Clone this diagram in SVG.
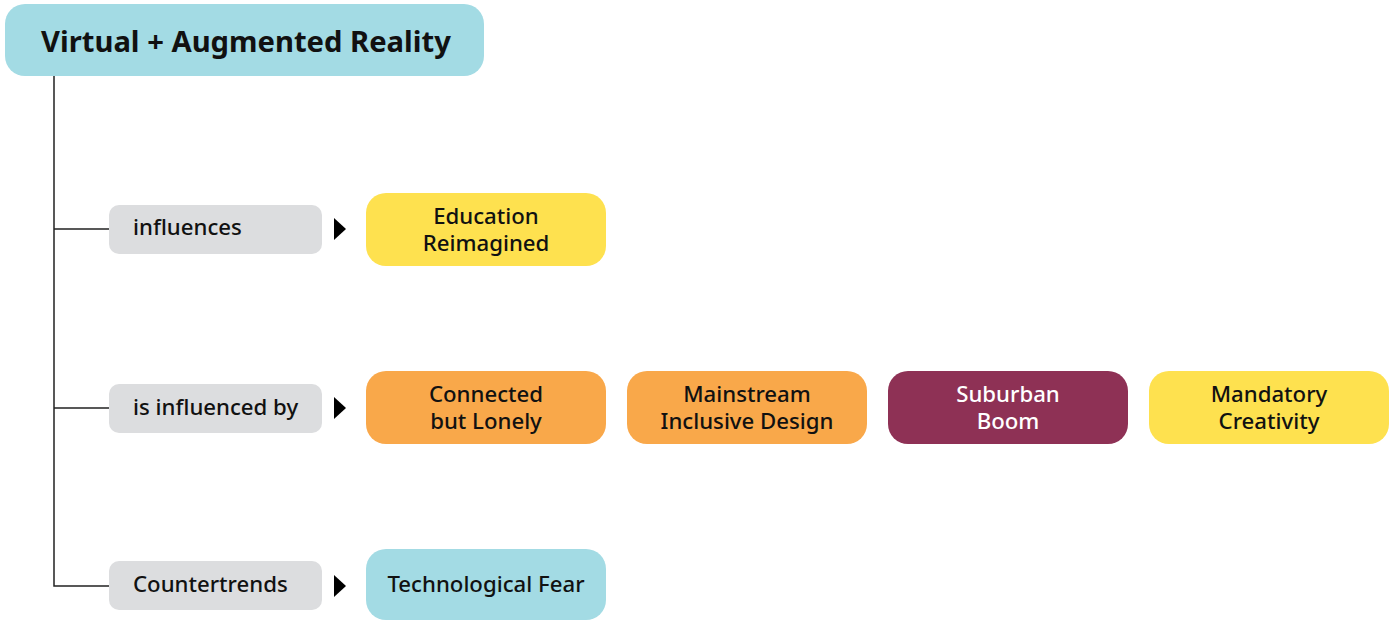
<svg xmlns="http://www.w3.org/2000/svg" width="1392" height="621" viewBox="0 0 1392 621">
<style>
.t{font-family:"Noto Sans","Open Sans",sans-serif;font-weight:500;font-size:22.2px;fill:#111}
.c{text-anchor:middle}
.lbl{fill:#dcdddf}
.line{stroke:#222;stroke-width:1.5;fill:none}
.arr{fill:#000}
</style>
<rect width="1392" height="621" fill="#fff"/>
<g id="root">
<rect x="5" y="4" width="479" height="72" rx="20" fill="#a3dbe4"/>
<text x="41" y="52" class="t" style="font-size:29.2px;font-weight:700">Virtual + Augmented Reality</text>
</g>
<g id="connectors">
<path class="line" d="M54 76V586H109M54 229H109M54 408H109"/>
<path class="arr" d="M334 218L346 229L334 240Z"/>
<path class="arr" d="M334 397L346 408L334 419Z"/>
<path class="arr" d="M334 575L346 586L334 597Z"/>
</g>
<g id="lbl-influences">
<rect class="lbl" x="109" y="205" width="213" height="49" rx="10"/>
<text x="133" y="235" class="t">influences</text>
</g>
<g id="lbl-influenced-by">
<rect class="lbl" x="109" y="384" width="213" height="49" rx="10"/>
<text x="133" y="415" class="t">is influenced by</text>
</g>
<g id="lbl-countertrends">
<rect class="lbl" x="109" y="561" width="213" height="49" rx="10"/>
<text x="133" y="592" class="t">Countertrends</text>
</g>
<g id="education-reimagined">
<rect x="366" y="193" width="240" height="73" rx="20" fill="#fee14f"/>
<text x="486" y="224" class="t c">Education</text>
<text x="486" y="251" class="t c">Reimagined</text>
</g>
<g id="connected-but-lonely">
<rect x="366" y="371" width="240" height="73" rx="20" fill="#f9a84a"/>
<text x="486" y="402" class="t c">Connected</text>
<text x="486" y="429" class="t c">but Lonely</text>
</g>
<g id="mainstream-inclusive-design">
<rect x="627" y="371" width="240" height="73" rx="20" fill="#f9a84a"/>
<text x="747" y="402" class="t c">Mainstream</text>
<text x="747" y="429" class="t c">Inclusive Design</text>
</g>
<g id="suburban-boom">
<rect x="888" y="371" width="240" height="73" rx="20" fill="#8e3155"/>
<text x="1008" y="402" class="t c" style="fill:#fff">Suburban</text>
<text x="1008" y="429" class="t c" style="fill:#fff">Boom</text>
</g>
<g id="mandatory-creativity">
<rect x="1149" y="371" width="240" height="73" rx="20" fill="#fee14f"/>
<text x="1269" y="402" class="t c">Mandatory</text>
<text x="1269" y="429" class="t c">Creativity</text>
</g>
<g id="technological-fear">
<rect x="366" y="549" width="240" height="71" rx="20" fill="#a3dbe4"/>
<text x="486" y="592" class="t c">Technological Fear</text>
</g>
</svg>
